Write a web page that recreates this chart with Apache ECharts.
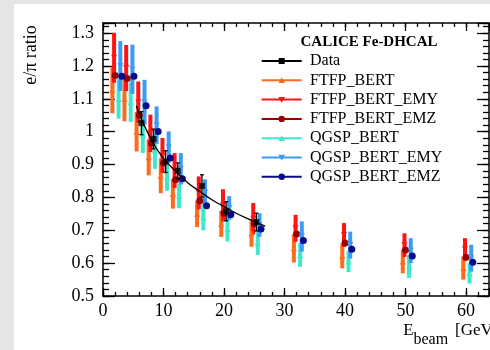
<!DOCTYPE html>
<html><head><meta charset="utf-8">
<script src="https://cdn.jsdelivr.net/npm/echarts/dist/echarts.min.js"></script>
<style>
html,body{margin:0;padding:0;background:#e5e5e5;width:490px;height:350px;overflow:hidden}
#c{position:absolute;left:14px;top:4px;width:476px;height:346px;background:#fff}
</style></head><body><div id="c"></div>
<script>
// ---------- data ----------
const energies = [2, 4, 6, 8, 10, 12, 16, 20, 25, 32, 40, 50, 60];
const xTicks = [0, 10, 20, 30, 40, 50, 60];
const yTicks = [0.5, 0.6, 0.7, 0.8, 0.9, 1, 1.1, 1.2, 1.3];

const dataVal = [null, null, 1.026, 0.978, 0.909, 0.881, 0.835, 0.758, 0.725, null, null, null, null];
const dataErr = [null, null, 0.035, 0.030, 0.033, 0.024, 0.034, 0.029, 0.027, null, null, null, null];

const ftfpBert       = [1.126, 1.100, 1.000, 0.922, 0.866, 0.811, 0.750, 0.720, 0.690, 0.645, 0.622, 0.605, 0.585];
const ftfpBertErr    = [0.070, 0.068, 0.060, 0.055, 0.053, 0.045, 0.040, 0.040, 0.040, 0.043, 0.038, 0.036, 0.035];
const ftfpBertEmy    = [1.225, 1.194, 1.090, 0.995, 0.928, 0.882, 0.814, 0.776, 0.735, 0.706, 0.686, 0.655, 0.642];
const ftfpBertEmyErr = [0.076, 0.070, 0.063, 0.057, 0.053, 0.053, 0.050, 0.049, 0.048, 0.041, 0.036, 0.036, 0.034];
const ftfpBertEmz    = [1.171, 1.162, 1.050, 0.965, 0.905, 0.854, 0.790, 0.752, 0.720, 0.689, 0.661, 0.640, 0.618];
const qgspBert       = [1.100, 1.090, 0.990, 0.942, 0.860, 0.805, 0.740, 0.704, 0.663, 0.625, 0.605, 0.590, 0.569];
const qgspBertErr    = [0.060, 0.060, 0.055, 0.055, 0.040, 0.038, 0.040, 0.038, 0.038, 0.036, 0.032, 0.035, 0.031];
const qgspBertEmy    = [1.200, 1.190, 1.090, 1.020, 0.953, 0.887, 0.815, 0.768, 0.716, 0.681, 0.655, 0.638, 0.615];
const qgspBertEmyErr = [0.076, 0.075, 0.068, 0.057, 0.048, 0.048, 0.040, 0.036, 0.036, 0.046, 0.041, 0.038, 0.041];
const qgspBertEmz    = [1.169, 1.169, 1.079, 1.001, 0.920, 0.857, 0.775, 0.747, 0.704, 0.669, 0.642, 0.622, 0.603];

// fit curve
const fitE = [5.5, 6, 7, 8, 9, 10, 12, 14, 16, 18, 20, 22, 24, 26.8];
const fitV = [1.079, 1.055, 1.012, 0.975, 0.945, 0.918, 0.880, 0.845, 0.818, 0.793, 0.772, 0.752, 0.735, 0.713];

const legendTitle = 'CALICE Fe-DHCAL';
const yTitle = 'e/π ratio';

// ---------- style ----------
const FONT = '"Liberation Serif","DejaVu Serif",serif';
const models = [
  {name:'FTFP_BERT',     vals:ftfpBert,    errs:ftfpBertErr,    color:'#ff6a1f', sym:'triangle', rot:0,   off:-0.45},
  {name:'FTFP_BERT_EMY', vals:ftfpBertEmy, errs:ftfpBertEmyErr, color:'#ff1414', sym:'triangle', rot:180, off:-0.17},
  {name:'FTFP_BERT_EMZ', vals:ftfpBertEmz, errs:null,           color:'#990000', sym:'circle',   rot:0,   off:0},
  {name:'QGSP_BERT',     vals:qgspBert,    errs:qgspBertErr,    color:'#3ee8cc', sym:'triangle', rot:0,   off:0.58},
  {name:'QGSP_BERT_EMY', vals:qgspBertEmy, errs:qgspBertEmyErr, color:'#3b9cf5', sym:'triangle', rot:180, off:0.86},
  {name:'QGSP_BERT_EMZ', vals:qgspBertEmz, errs:null,           color:'#0a0a8c', sym:'circle',   rot:0,   off:1.12}
];
const DATA_OFF = 0.35;
const X0 = 0, X1 = 63.8, Y0 = 0.5, Y1 = 1.331;

const chart = echarts.init(document.getElementById('c'), null, {renderer:'canvas'});

function xAx(pos, major, label) {
  return {type:'value', position:pos, min:X0, max:X1, interval: major ? 10 : 2,
    axisLine:{show:major, onZero:false, lineStyle:{color:'#000', width:1.5}},
    axisTick:{show:true, inside:true, length: major ? 8 : 4, lineStyle:{color:'#000', width:1.3}},
    axisLabel:{show:label, margin:6, color:'#000', fontFamily:FONT, fontSize:18,
      formatter: v => (xTicks.some(t => Math.abs(t - v) < 1e-6) ? String(v) : '')},
    splitLine:{show:false}};
}
function yAx(pos, major, label) {
  return {type:'value', position:pos, min:Y0, max:Y1, interval: major ? 0.1 : 0.02,
    axisLine:{show:major, onZero:false, lineStyle:{color:'#000', width:1.5}},
    axisTick:{show:true, inside:true, length: major ? 12 : 6, lineStyle:{color:'#000', width:1.3}},
    axisLabel:{show:label, margin:9, color:'#000', fontFamily:FONT, fontSize:18,
      formatter: v => { const t = yTicks.find(t => Math.abs(t - v) < 1e-6); return t === undefined ? '' : String(t); }},
    splitLine:{show:false}};
}

const series = [];
// error bars (thick)
models.forEach((m, k) => {
  if (!m.errs) return;
  series.push({
    type:'custom', name:m.name + '_err', silent:true, z:2 + k * 0.01,
    data: energies.map((e, i) => [e + m.off, m.vals[i], m.errs[i]]),
    encode:{x:0, y:1},
    renderItem: (params, api) => {
      const x = api.value(0), v = api.value(1), e = api.value(2);
      const p1 = api.coord([x, v + e]), p2 = api.coord([x, v - e]);
      const w = 4;
      return {type:'rect', shape:{x:p1[0] - w / 2, y:p1[1], width:w, height:p2[1] - p1[1]},
        style:{fill:m.color}};
    }
  });
});
// markers
models.forEach((m, k) => {
  series.push({
    type:'scatter', name:m.name, silent:true, z:3 + k * 0.01,
    symbol:m.sym, symbolRotate:m.rot, symbolSize: m.sym === 'circle' ? 7 : 6,
    itemStyle:{color:m.color, opacity:1},
    data: energies.map((e, i) => [e + m.off, m.vals[i]])
  });
});
// fit line
series.push({type:'line', name:'fit', silent:true, z:4, smooth:0.4, symbol:'none',
  lineStyle:{color:'#000', width:1.3},
  data: fitE.map((e, i) => [e, fitV[i]])});
// data error bars with caps
series.push({
  type:'custom', name:'Data_err', silent:true, z:5,
  data: energies.map((e, i) => dataVal[i] == null ? null : [e + DATA_OFF, dataVal[i], dataErr[i]]).filter(d => d),
  encode:{x:0, y:1},
  renderItem: (params, api) => {
    const x = api.value(0), v = api.value(1), e = api.value(2);
    const p1 = api.coord([x, v + e]), p2 = api.coord([x, v - e]);
    const c = 2;
    const st = {stroke:'#000', lineWidth:1.3};
    return {type:'group', children:[
      {type:'line', shape:{x1:p1[0], y1:p1[1], x2:p2[0], y2:p2[1]}, style:st},
      {type:'line', shape:{x1:p1[0] - c, y1:p1[1], x2:p1[0] + c, y2:p1[1]}, style:st},
      {type:'line', shape:{x1:p2[0] - c, y1:p2[1], x2:p2[0] + c, y2:p2[1]}, style:st}
    ]};
  }
});
series.push({type:'scatter', name:'Data', silent:true, z:6, symbol:'rect', symbolSize:6,
  itemStyle:{color:'#000'},
  data: energies.map((e, i) => dataVal[i] == null ? null : [e + DATA_OFF, dataVal[i]]).filter(d => d)});

// ---------- legend (graphic) ----------
const legendEntries = [{name:'Data', color:'#000', sym:'rect', rot:0}].concat(models);
const LX1 = 247.7, LX2 = 287.7, LTX = 296, LY0 = 57, LDY = 19.3;
function markerEl(sym, rot, color, cx, cy) {
  if (sym === 'circle') return {type:'circle', shape:{cx, cy, r:3.2}, style:{fill:color}};
  if (sym === 'rect') return {type:'rect', shape:{x:cx - 3, y:cy - 3, width:6, height:6}, style:{fill:color}};
  const s = 3.4;
  const pts = rot === 180 ? [[cx - s, cy - s * 0.8], [cx + s, cy - s * 0.8], [cx, cy + s * 0.9]]
                          : [[cx - s, cy + s * 0.8], [cx + s, cy + s * 0.8], [cx, cy - s * 0.9]];
  return {type:'polygon', shape:{points:pts}, style:{fill:color}};
}
const graphic = [];
graphic.push({type:'text', x:355, y:37.7, z:10,
  style:{text:legendTitle, font:'bold 15px ' + FONT, fill:'#000', align:'center', verticalAlign:'middle'}});
legendEntries.forEach((en, i) => {
  const y = LY0 + i * LDY;
  graphic.push({type:'line', z:10, shape:{x1:LX1, y1:y, x2:LX2, y2:y}, style:{stroke:en.color, lineWidth:2}});
  const mk = markerEl(en.sym, en.rot, en.color, (LX1 + LX2) / 2, y); mk.z = 11;
  graphic.push(mk);
  graphic.push({type:'text', x:LTX, y:y, z:10,
    style:{text:en.name, font:'16px ' + FONT, fill:'#000', align:'left', verticalAlign:'middle'}});
});
// axis titles
graphic.push({type:'text', x:17.7, y:51, rotation:Math.PI / 2, z:10,
  style:{text:yTitle, font:'18px ' + FONT, fill:'#000', align:'center', verticalAlign:'middle'}});
graphic.push({type:'text', x:389.3, y:326.5, z:10,
  style:{text:'E', font:'17px ' + FONT, fill:'#000', align:'left', verticalAlign:'middle'}});
graphic.push({type:'text', x:399.5, y:335.5, z:10,
  style:{text:'beam', font:'16px ' + FONT, fill:'#000', align:'left', verticalAlign:'middle'}});
graphic.push({type:'text', x:441, y:326.5, z:10,
  style:{text:'[GeV]', font:'17px ' + FONT, fill:'#000', align:'left', verticalAlign:'middle'}});

chart.setOption({
  animation:false,
  backgroundColor:'#fff',
  grid:{left:89, top:19, right:1, bottom:54, containLabel:false, outerBoundsMode:'none'},
  xAxis:[xAx('bottom', true, true), xAx('bottom', false, false), xAx('top', true, false), xAx('top', false, false)],
  yAxis:[yAx('left', true, true), yAx('left', false, false), yAx('right', true, false), yAx('right', false, false)],
  series: series,
  graphic: graphic
});
</script></body></html>
